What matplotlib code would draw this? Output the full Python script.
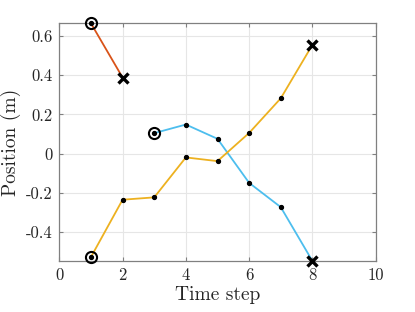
import matplotlib
matplotlib.use("Agg")
import matplotlib.pyplot as plt

plt.rcParams['font.family'] = ['cmr10', 'DejaVu Serif']
plt.rcParams['mathtext.fontset'] = 'cm'
plt.rcParams['axes.unicode_minus'] = False
plt.rcParams['axes.formatter.use_mathtext'] = False

# Data
steps_red = [1, 2]
pos_red = [0.665, 0.388]
steps_blue = [3, 4, 5, 6, 7, 8]
pos_blue = [0.104, 0.148, 0.075, -0.150, -0.274, -0.549]
steps_yellow = [1, 2, 3, 4, 5, 6, 7, 8]
pos_yellow = [-0.529, -0.236, -0.224, -0.020, -0.039, 0.105, 0.282, 0.555]

xticks = [0, 2, 4, 6, 8, 10]
yticks = [-0.4, -0.2, 0, 0.2, 0.4, 0.6]
ytick_labels = ['-0.4', '-0.2', '0', '0.2', '0.4', '0.6']

series = [
    (steps_red, pos_red, '#D95319'),
    (steps_blue, pos_blue, '#4DBEEE'),
    (steps_yellow, pos_yellow, '#EDB120'),
]

fig = plt.figure(figsize=(4.15, 3.12), dpi=100)
ax = fig.add_axes([59.3/415, 1 - 261/312, (375.7-59.3)/415, (261-23.3)/312])

for xs, ys, c in series:
    ax.plot(xs, ys, '-', color=c, lw=1.3, zorder=3, clip_on=False)
    ax.plot(xs[1:-1], ys[1:-1], 'o', color='black', ms=2.8, zorder=4, clip_on=False)
    ax.plot(xs[0], ys[0], 'o', mfc='none', mec='black', ms=8, mew=1.5, zorder=5, clip_on=False)
    ax.plot(xs[0], ys[0], 'o', color='black', ms=2.8, zorder=5, clip_on=False)
    ax.plot(xs[-1], ys[-1], 'x', color='black', ms=6.5, mew=2.4, zorder=5, clip_on=False)

allys = pos_red + pos_blue + pos_yellow
ax.set_xlim(0, 10)
ax.set_ylim(min(allys), max(allys))
ax.set_xticks(xticks)
ax.set_yticks(yticks)
ax.set_yticklabels(ytick_labels)
ax.grid(True, color='#e6e6e6', lw=0.8)
ax.set_axisbelow(True)
for s in ax.spines.values():
    s.set_color('#808080')
    s.set_linewidth(0.9)
ax.tick_params(direction='in', top=True, right=True, length=3, width=0.8,
               color='#808080', labelsize=12, labelcolor='#262626', pad=5)
ax.set_xlabel('Time step', fontsize=14, color='#262626', labelpad=2)
ax.set_ylabel('Position (m)', fontsize=14, color='#262626', labelpad=3)

fig.savefig('out.png', dpi=100)
